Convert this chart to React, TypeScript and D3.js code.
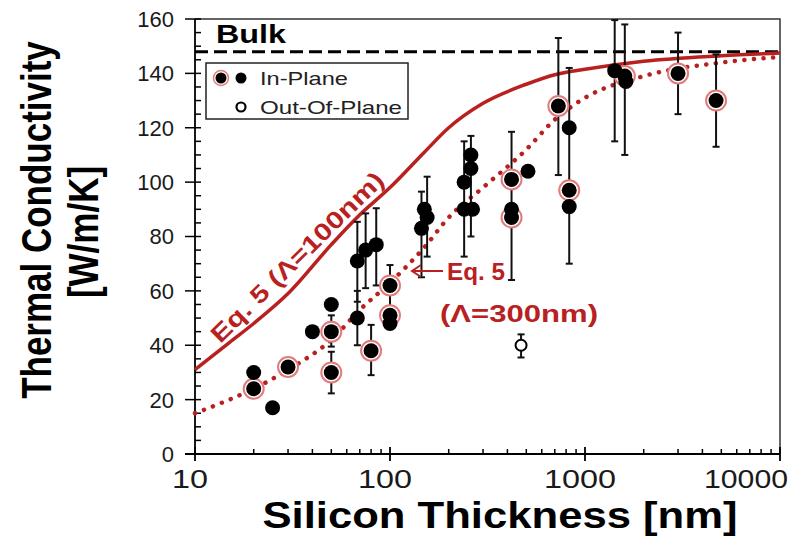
import React, { useEffect, useRef } from 'react'
import * as d3 from 'd3'

// in-plane measurements (nm, W/m/K); ringed = drawn with the red halo
const inPlaneThickness = [20, 20, 25, 30, 40, 50, 50, 50, 68, 68, 75, 85, 80, 100, 100, 100, 145, 155, 150, 240, 260, 260, 240, 265, 420, 510, 420, 420, 730, 830, 830, 830, 1420, 1600, 1620, 3000, 4700]
const inPlaneK = [30, 24, 17, 32, 45, 55, 45, 30, 50, 71, 75, 77, 38, 48, 51, 62, 83, 87, 90, 100, 105, 110, 90, 90, 101, 104, 90, 87, 128, 120, 97, 91, 141, 139, 137, 140, 130]
const ringed = [0, 1, 0, 1, 0, 0, 1, 1, 0, 0, 0, 0, 1, 0, 1, 1, 0, 0, 0, 0, 0, 0, 0, 0, 1, 0, 0, 1, 1, 0, 1, 0, 0, 1, 0, 1, 1]

// error bars
const errThickness = [50, 50, 68, 68, 75, 85, 80, 100, 145, 155, 240, 260, 420, 730, 830, 1420, 1600, 3000, 4700]
const errLow = [39.5, 22.3, 40, 56, 61, 62, 29, 54, 65, 72.6, 72.6, 80, 64, 102.6, 70, 115, 110, 125, 113]
const errHigh = [51, 37.6, 60, 85.4, 88.5, 90.4, 47.5, 69.5, 96.5, 102, 115, 117, 118.5, 153, 142, 159.6, 158, 155, 147]

// out-of-plane point
const outThickness = [470]
const outK = [40]
const outLow = [35.5]
const outHigh = [44]

// Eq. 5 curves
const curveThickness = [10, 15, 20, 30, 50, 70, 100, 150, 200, 300, 500, 700, 1000, 2000, 5000, 10000]
const curve100 = [31, 41, 48, 59, 77, 88, 98, 111, 120, 129, 136, 139.5, 141.5, 144.5, 146.5, 147.5]
const curve300 = [15, 20, 24, 31, 42, 53, 63, 76, 87, 98, 112, 123, 131, 139, 144, 146]

const bulkK = 148
const xTicks = [10, 100, 1000, 10000]
const yTicks = [0, 20, 40, 60, 80, 100, 120, 140, 160]

const RED = '#b8211f'
const RING = '#e37b7b'
const FONT = '"Liberation Sans", Arial, sans-serif'

export default function App() {
    const svgRef = useRef(null)

    useEffect(() => {
        const svg = d3.select(svgRef.current)
        svg.selectAll('*').remove()

        const x = d3.scaleLog().domain([10, 10000]).range([195, 780])
        const y = d3.scaleLinear().domain([0, 160]).range([454, 19])
        const x0 = x.range()[0], x1 = x.range()[1]
        const y0 = y.range()[0], y1 = y.range()[1]

        // frame (top + right)
        svg.append('path')
            .attr('d', `M${x0},${y1}H${x1}V${y0}`)
            .attr('fill', 'none')
            .attr('stroke', '#333')
            .attr('stroke-width', 1.5)

        // axes lines
        svg.append('line').attr('x1', x0).attr('x2', x0).attr('y1', y1).attr('y2', y0)
            .attr('stroke', '#000').attr('stroke-width', 1.8)
        svg.append('line').attr('x1', x0 - 10).attr('x2', x1).attr('y1', y0).attr('y2', y0)
            .attr('stroke', '#000').attr('stroke-width', 1.8)

        // y ticks
        const yMinor = d3.range(0, 161, 5)
        svg.append('g').selectAll('line').data(yMinor).join('line')
            .attr('x1', d => d % 20 === 0 ? x0 - 10 : x0)
            .attr('x2', x0 + 6)
            .attr('y1', d => y(d)).attr('y2', d => y(d))
            .attr('stroke', '#000').attr('stroke-width', 1.5)
        svg.append('g').selectAll('text').data(yTicks).join('text')
            .attr('x', 174).attr('y', d => y(d)).attr('dy', '0.36em')
            .attr('text-anchor', 'end')
            .attr('font-family', FONT).attr('font-size', 22).attr('fill', '#1a1a1a')
            .text(d => d)

        // x ticks
        const xMinor = []
        for (let dec = 10; dec < 10000; dec *= 10)
            for (let k = 2; k <= 9; k++) xMinor.push(dec * k)
        svg.append('g').selectAll('line').data(xMinor).join('line')
            .attr('x1', d => x(d)).attr('x2', d => x(d))
            .attr('y1', y0 - 5).attr('y2', y0)
            .attr('stroke', '#000').attr('stroke-width', 1.5)
        svg.append('g').selectAll('line').data(xTicks).join('line')
            .attr('x1', d => x(d)).attr('x2', d => x(d))
            .attr('y1', y0 - 7).attr('y2', y0 + 7)
            .attr('stroke', '#000').attr('stroke-width', 1.8)
        svg.append('g').selectAll('text').data(xTicks).join('text')
            .attr('x', d => d === 10000 ? 788 : x(d) - 5).attr('y', 488)
            .attr('text-anchor', d => d === 10000 ? 'end' : 'middle')
            .attr('textLength', d => d === 10000 ? 84 : String(d).length * 18)
            .attr('lengthAdjust', 'spacingAndGlyphs')
            .attr('font-family', FONT).attr('font-size', 26).attr('fill', '#1a1a1a')
            .text(d => d)

        // titles
        svg.append('text')
            .attr('transform', 'translate(51,220) scale(1.2,1) rotate(-90)')
            .attr('text-anchor', 'middle')
            .attr('font-family', FONT).attr('font-weight', 'bold').attr('font-size', 35)
            .text('Thermal Conductivity')
        svg.append('text')
            .attr('transform', 'translate(98,232) scale(1.2,1) rotate(-90)')
            .attr('text-anchor', 'middle')
            .attr('font-family', FONT).attr('font-weight', 'bold').attr('font-size', 35)
            .text('[W/m/K]')
        svg.append('text')
            .attr('x', 500).attr('y', 528)
            .attr('text-anchor', 'middle')
            .attr('textLength', 475).attr('lengthAdjust', 'spacingAndGlyphs')
            .attr('font-family', FONT).attr('font-weight', 'bold').attr('font-size', 36)
            .text('Silicon Thickness [nm]')

        // bulk
        svg.append('line')
            .attr('x1', x0).attr('x2', x1).attr('y1', y(bulkK)).attr('y2', y(bulkK))
            .attr('stroke', '#000').attr('stroke-width', 3).attr('stroke-dasharray', '13 6')
        svg.append('text')
            .attr('x', 216).attr('y', 43)
            .attr('textLength', 70).attr('lengthAdjust', 'spacingAndGlyphs')
            .attr('font-family', FONT).attr('font-weight', 'bold').attr('font-size', 25)
            .text('Bulk')

        // curves
        const line = d3.line()
            .x(d => x(d[0])).y(d => y(d[1]))
            .curve(d3.curveMonotoneX)
        svg.append('path')
            .attr('d', line(curveThickness.map((t, i) => [t, curve100[i]])))
            .attr('fill', 'none').attr('stroke', RED).attr('stroke-width', 3.5)
        svg.append('path')
            .attr('d', line(curveThickness.map((t, i) => [t, curve300[i]])))
            .attr('fill', 'none').attr('stroke', RED).attr('stroke-width', 4.5)
            .attr('stroke-linecap', 'round').attr('stroke-dasharray', '0.1 9.5')

        // error bars
        const bars = errThickness.map((t, i) => ({ t, lo: errLow[i], hi: errHigh[i] }))
            .concat(outThickness.map((t, i) => ({ t, lo: outLow[i], hi: outHigh[i] })))
        const eb = svg.append('g').attr('stroke', '#111').attr('stroke-width', 2)
        bars.forEach(b => {
            eb.append('line').attr('x1', x(b.t)).attr('x2', x(b.t)).attr('y1', y(b.lo)).attr('y2', y(b.hi))
            eb.append('line').attr('x1', x(b.t) - 3.5).attr('x2', x(b.t) + 3.5).attr('y1', y(b.lo)).attr('y2', y(b.lo))
            eb.append('line').attr('x1', x(b.t) - 3.5).attr('x2', x(b.t) + 3.5).attr('y1', y(b.hi)).attr('y2', y(b.hi))
        })

        // points
        const pts = inPlaneThickness.map((t, i) => ({ t, k: inPlaneK[i], r: ringed[i] }))
        svg.append('g').selectAll('circle').data(pts.filter(p => p.r)).join('circle')
            .attr('cx', d => x(d.t)).attr('cy', d => y(d.k)).attr('r', 10)
            .attr('fill', '#fff').attr('stroke', RING).attr('stroke-width', 2)
        svg.append('g').selectAll('circle').data(pts).join('circle')
            .attr('cx', d => x(d.t)).attr('cy', d => y(d.k)).attr('r', 7.5)
            .attr('fill', '#000')
        svg.append('g').selectAll('circle').data(outThickness).join('circle')
            .attr('cx', d => x(d)).attr('cy', (d, i) => y(outK[i])).attr('r', 5.5)
            .attr('fill', '#fff').attr('stroke', '#000').attr('stroke-width', 2)

        // legend
        const lg = svg.append('g')
        lg.append('rect').attr('x', 206).attr('y', 63).attr('width', 202).attr('height', 56)
            .attr('fill', '#fff').attr('stroke', '#222').attr('stroke-width', 1.5)
        lg.append('circle').attr('cx', 221).attr('cy', 78).attr('r', 7.5)
            .attr('fill', '#fff').attr('stroke', RING).attr('stroke-width', 1.5)
        lg.append('circle').attr('cx', 221).attr('cy', 78).attr('r', 5.5).attr('fill', '#000')
        lg.append('circle').attr('cx', 241).attr('cy', 78).attr('r', 5.5).attr('fill', '#000')
        lg.append('circle').attr('cx', 241).attr('cy', 107).attr('r', 4.5)
            .attr('fill', '#fff').attr('stroke', '#000').attr('stroke-width', 2.2)
        lg.append('text').attr('x', 260).attr('y', 85)
            .attr('textLength', 88).attr('lengthAdjust', 'spacingAndGlyphs')
            .attr('font-family', FONT).attr('font-size', 19).attr('fill', '#222').text('In-Plane')
        lg.append('text').attr('x', 260).attr('y', 114)
            .attr('textLength', 142).attr('lengthAdjust', 'spacingAndGlyphs')
            .attr('font-family', FONT).attr('font-size', 19).attr('fill', '#222').text('Out-Of-Plane')

        // annotations
        svg.append('text')
            .attr('transform', 'translate(303,263) rotate(-44.5)')
            .attr('text-anchor', 'middle')
            .attr('textLength', 232).attr('lengthAdjust', 'spacingAndGlyphs')
            .attr('font-family', FONT).attr('font-weight', 'bold').attr('font-size', 24).attr('fill', RED)
            .text('Eq. 5 (Λ=100nm)')
        // arrow pointing at the dotted curve
        svg.append('path')
            .attr('d', 'M443,271H413M421,265L412,271L421,277')
            .attr('fill', 'none').attr('stroke', RED).attr('stroke-width', 2)
        svg.append('text')
            .attr('x', 447).attr('y', 280)
            .attr('textLength', 58).attr('lengthAdjust', 'spacingAndGlyphs')
            .attr('font-family', FONT).attr('font-weight', 'bold').attr('font-size', 24).attr('fill', RED)
            .text('Eq. 5')
        svg.append('text')
            .attr('x', 440).attr('y', 322)
            .attr('textLength', 158).attr('lengthAdjust', 'spacingAndGlyphs')
            .attr('font-family', FONT).attr('font-weight', 'bold').attr('font-size', 24).attr('fill', RED)
            .text('(Λ=300nm)')
    }, [])

    return (
        <svg ref={svgRef} width={807} height={536}
            style={{ position: 'absolute', left: 0, top: 0, background: '#fff' }} />
    )
}
